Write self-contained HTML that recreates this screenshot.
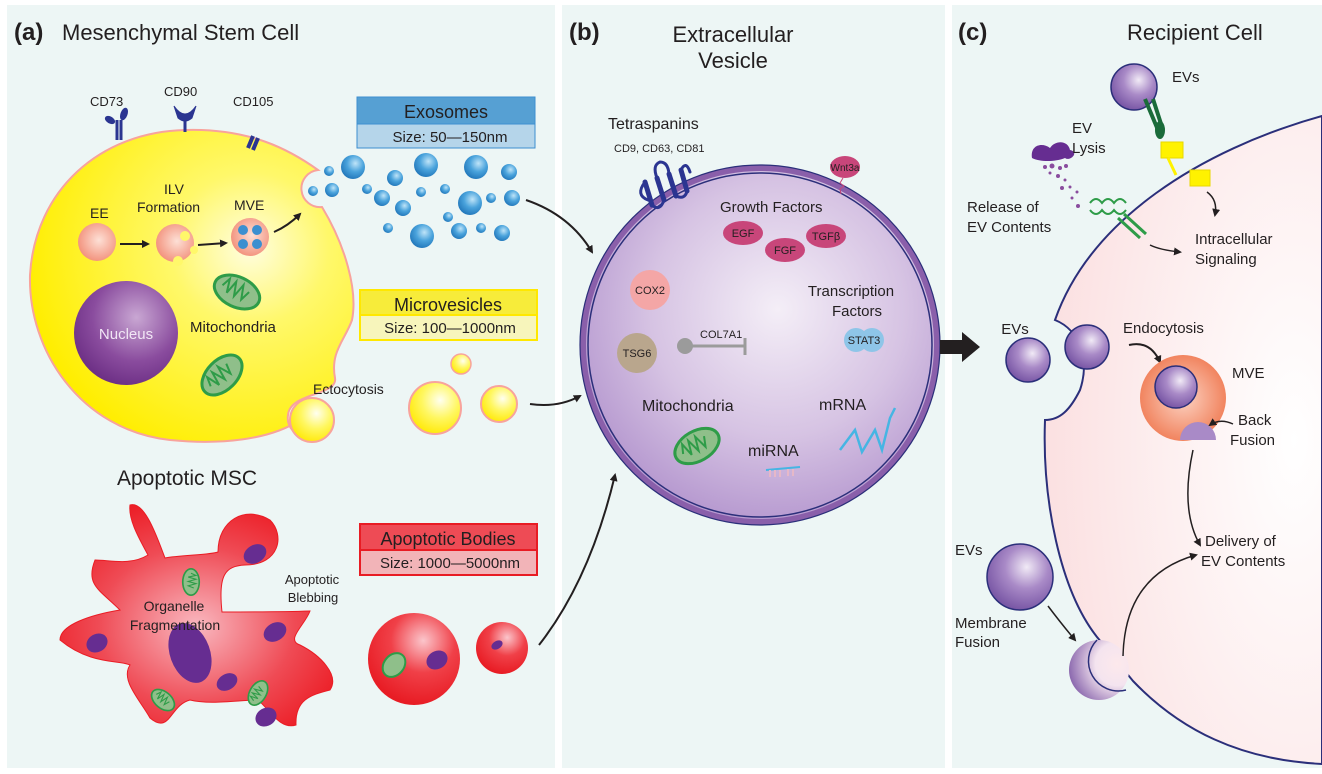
<!DOCTYPE html>
<html><head><meta charset="utf-8"><style>
html,body{margin:0;padding:0;background:#fff}
svg{display:block}
text{font-family:"Liberation Sans",sans-serif;fill:#231f20}
</style></head><body>
<svg width="1322" height="774" viewBox="0 0 1322 774" xmlns="http://www.w3.org/2000/svg">
<defs>
<radialGradient id="yel" cx="0.68" cy="0.38" r="0.7"><stop offset="0" stop-color="#fffde0"/><stop offset="0.35" stop-color="#fff86a"/><stop offset="1" stop-color="#ffee00"/></radialGradient>
<radialGradient id="ysm" cx="0.6" cy="0.35" r="0.7"><stop offset="0" stop-color="#fffff0"/><stop offset="0.5" stop-color="#fff760"/><stop offset="1" stop-color="#ffe800"/></radialGradient>
<radialGradient id="blue" cx="0.6" cy="0.35" r="0.7"><stop offset="0" stop-color="#bfe4f8"/><stop offset="0.5" stop-color="#4aa3dc"/><stop offset="1" stop-color="#1f74b8"/></radialGradient>
<radialGradient id="red" cx="0.5" cy="0.55" r="0.6"><stop offset="0" stop-color="#f9b8c0"/><stop offset="0.6" stop-color="#ef4b55"/><stop offset="1" stop-color="#ec1c24"/></radialGradient>
<radialGradient id="rsm" cx="0.6" cy="0.3" r="0.7"><stop offset="0" stop-color="#fbc5cb"/><stop offset="0.5" stop-color="#f04048"/><stop offset="1" stop-color="#e81c24"/></radialGradient>
<radialGradient id="purp" cx="0.6" cy="0.35" r="0.7"><stop offset="0" stop-color="#c9a7d3"/><stop offset="0.6" stop-color="#8a4c9e"/><stop offset="1" stop-color="#6a2d83"/></radialGradient>
<radialGradient id="ev" cx="0.55" cy="0.4" r="0.6"><stop offset="0" stop-color="#f4eef7"/><stop offset="0.6" stop-color="#d6c3e3"/><stop offset="1" stop-color="#b79ad0"/></radialGradient>
<radialGradient id="evs" cx="0.6" cy="0.35" r="0.65"><stop offset="0" stop-color="#f1eaf6"/><stop offset="0.5" stop-color="#a98ac7"/><stop offset="1" stop-color="#7a58a6"/></radialGradient>
<radialGradient id="fus" cx="0.8" cy="0.4" r="0.8"><stop offset="0" stop-color="#fde9ec"/><stop offset="0.45" stop-color="#f4e4ef"/><stop offset="1" stop-color="#8e6cb0"/></radialGradient>
<radialGradient id="pink" cx="0.9" cy="0.5" r="0.9"><stop offset="0" stop-color="#ffffff"/><stop offset="1" stop-color="#fbe0e1"/></radialGradient>
<radialGradient id="sal" cx="0.55" cy="0.45" r="0.6"><stop offset="0" stop-color="#fde0d6"/><stop offset="1" stop-color="#f28e78"/></radialGradient>
<radialGradient id="mve" cx="0.5" cy="0.5" r="0.55"><stop offset="0" stop-color="#fcd3c3"/><stop offset="1" stop-color="#f07c55"/></radialGradient>
<marker id="ah" markerWidth="8" markerHeight="8" refX="6" refY="4" orient="auto" markerUnits="userSpaceOnUse"><path d="M0,0 L8,4 L0,8 Z" fill="#231f20"/></marker>
<g id="mito"><ellipse cx="0" cy="0" rx="24" ry="15" fill="#8fbf8a" stroke="#2e9c48" stroke-width="3"/><path d="M-16,0 l4,-9 l3,14 l4,-14 l4,14 l4,-14 l4,14 l4,-10" fill="none" stroke="#2e9c48" stroke-width="2"/></g>
</defs>
<!-- panels -->
<rect x="7" y="5" width="548" height="763" fill="#edf6f5"/>
<rect x="562" y="5" width="383" height="763" fill="#edf6f5"/>
<rect x="952" y="5" width="370" height="763" fill="#edf6f5"/>

<!-- ===== Panel A ===== -->
<text x="14" y="40" font-size="24" font-weight="bold">(a)</text>
<text x="62" y="40" font-size="22">Mesenchymal Stem Cell</text>
<text x="90" y="106" font-size="13">CD73</text>
<text x="164" y="96" font-size="13">CD90</text>
<text x="233" y="106" font-size="13">CD105</text>
<!-- yellow cell -->
<path d="M185,130 C250,128 290,150 318,170 A18,18 0 0 0 322,207 C345,245 358,290 352,320 C345,340 330,352 335,378 C338,396 290,392 288,415 C284,440 330,450 330,420 C330,400 315,400 300,420 C270,440 220,445 170,440 C80,430 28,350 30,275 C35,190 100,132 185,130 Z" fill="url(#yel)" stroke="#f8a39c" stroke-width="2"/>
<g fill="#2b3591" stroke="#2b3591">
<path d="M117,140 L117,120 M121,140 L121,120" stroke-width="3"/>
<ellipse cx="110" cy="120" rx="5" ry="3" transform="rotate(30 110 120)"/><ellipse cx="124" cy="114" rx="3" ry="6" transform="rotate(20 124 114)"/>
<path d="M174,106 Q185,122 196,106 L192,118 Q185,124 178,118 Z"/><path d="M185,120 L185,132" stroke-width="3"/>
<path d="M248,148 L253,136 M253,150 L258,138" stroke-width="4"/>
</g>
<circle cx="312" cy="420" r="22" fill="url(#ysm)" stroke="#f8a39c" stroke-width="2"/>
<text x="90" y="218" font-size="14">EE</text>
<text x="164" y="194" font-size="14">ILV</text>
<text x="137" y="212" font-size="14">Formation</text>
<text x="234" y="210" font-size="14">MVE</text>
<circle cx="97" cy="242" r="19" fill="url(#sal)"/>
<circle cx="175" cy="243" r="19" fill="url(#sal)"/>
<circle cx="185" cy="236" r="5" fill="#fff86a"/><circle cx="178" cy="261" r="5" fill="#fff86a"/><circle cx="194" cy="250" r="4" fill="#fff86a"/>
<circle cx="250" cy="237" r="19" fill="url(#sal)"/>
<circle cx="243" cy="230" r="5" fill="#3b8fd0"/><circle cx="257" cy="230" r="5" fill="#3b8fd0"/><circle cx="243" cy="244" r="5" fill="#3b8fd0"/><circle cx="257" cy="244" r="5" fill="#3b8fd0"/>
<path d="M120,244 L148,244" stroke="#231f20" stroke-width="2" marker-end="url(#ah)"/>
<path d="M198,245 L226,243" stroke="#231f20" stroke-width="2" marker-end="url(#ah)"/>
<path d="M274,232 Q288,226 300,214" fill="none" stroke="#231f20" stroke-width="2" marker-end="url(#ah)"/>
<circle cx="126" cy="333" r="52" fill="url(#purp)"/>
<text x="126" y="339" font-size="15" text-anchor="middle" style="fill:#f1e6f5">Nucleus</text>
<use href="#mito" transform="translate(237,292) rotate(25)"/>
<use href="#mito" transform="translate(222,375) rotate(-45)"/>
<text x="190" y="332" font-size="15">Mitochondria</text>
<!-- exosomes -->
<g fill="url(#blue)">
<circle cx="329" cy="171" r="5"/><circle cx="313" cy="191" r="5"/><circle cx="332" cy="190" r="7"/>
<circle cx="353" cy="167" r="12"/><circle cx="395" cy="178" r="8"/><circle cx="426" cy="165" r="12"/><circle cx="476" cy="167" r="12"/><circle cx="509" cy="172" r="8"/>
<circle cx="367" cy="189" r="5"/><circle cx="382" cy="198" r="8"/><circle cx="403" cy="208" r="8"/><circle cx="421" cy="192" r="5"/><circle cx="445" cy="189" r="5"/><circle cx="470" cy="203" r="12"/><circle cx="491" cy="198" r="5"/><circle cx="512" cy="198" r="8"/>
<circle cx="388" cy="228" r="5"/><circle cx="422" cy="236" r="12"/><circle cx="448" cy="217" r="5"/><circle cx="459" cy="231" r="8"/><circle cx="481" cy="228" r="5"/><circle cx="502" cy="233" r="8"/>
</g>
<rect x="357" y="97" width="178" height="27" fill="#56a0d3" stroke="#3d8fd0"/>
<rect x="357" y="124" width="178" height="24" fill="#b5d5ea" stroke="#3d8fd0"/>
<text x="446" y="118" font-size="18" text-anchor="middle">Exosomes</text>
<text x="450" y="142" font-size="15" text-anchor="middle">Size: 50—150nm</text>
<path d="M526,200 Q570,215 592,252" fill="none" stroke="#231f20" stroke-width="2" marker-end="url(#ah)"/>
<!-- microvesicles -->
<rect x="360" y="290" width="177" height="25" fill="#f7ec3a" stroke="#ffe800" stroke-width="2"/>
<rect x="360" y="315" width="177" height="25" fill="#f7f5bb" stroke="#ffe800" stroke-width="2"/>
<text x="448" y="311" font-size="18" text-anchor="middle">Microvesicles</text>
<text x="450" y="333" font-size="15" text-anchor="middle">Size: 100—1000nm</text>
<text x="313" y="394" font-size="14">Ectocytosis</text>
<circle cx="461" cy="364" r="10" fill="url(#ysm)" stroke="#f8a39c" stroke-width="1.5"/>
<circle cx="435" cy="408" r="26" fill="url(#ysm)" stroke="#f8a39c" stroke-width="2"/>
<circle cx="499" cy="404" r="18" fill="url(#ysm)" stroke="#f8a39c" stroke-width="2"/>
<path d="M530,404 Q558,408 580,396" fill="none" stroke="#231f20" stroke-width="2" marker-end="url(#ah)"/>
<!-- apoptotic -->
<text x="117" y="485" font-size="21">Apoptotic MSC</text>
<path d="M130,505 C145,500 158,540 165,558 C180,555 210,555 218,552 C218,520 245,505 270,520 C285,535 280,565 245,565 C225,566 218,575 222,612 C250,612 280,612 310,611 C305,625 285,640 300,645 C320,655 340,675 330,690 C310,695 295,700 296,725 C280,730 270,710 258,700 C240,700 210,705 190,700 C170,705 170,735 150,718 C140,700 120,680 130,665 C120,660 90,665 60,640 C60,625 90,615 120,610 C100,590 85,585 95,560 C110,560 130,566 148,555 C140,540 128,520 130,505 Z" fill="url(#red)" stroke="#ea1c24" stroke-width="1"/>
<g fill="#662d91">
<ellipse cx="190" cy="653" rx="20" ry="31" transform="rotate(-20 190 653)"/>
<ellipse cx="255" cy="554" rx="12" ry="9" transform="rotate(-30 255 554)"/>
<ellipse cx="275" cy="632" rx="12" ry="9" transform="rotate(-30 275 632)"/>
<ellipse cx="97" cy="643" rx="11" ry="9" transform="rotate(-30 97 643)"/>
<ellipse cx="227" cy="682" rx="11" ry="8" transform="rotate(-30 227 682)"/>
<ellipse cx="266" cy="717" rx="11" ry="9" transform="rotate(-30 266 717)"/>
<ellipse cx="437" cy="660" rx="11" ry="9" transform="rotate(-30 437 660)"/>
<ellipse cx="497" cy="645" rx="6" ry="4" transform="rotate(-30 497 645)"/>
</g>
<use href="#mito" transform="translate(191,582) rotate(90) scale(0.55)"/>
<use href="#mito" transform="translate(258,693) rotate(-60) scale(0.55)"/>
<use href="#mito" transform="translate(163,700) rotate(40) scale(0.55)"/>
<text x="174" y="611" font-size="14" text-anchor="middle">Organelle</text>
<text x="175" y="630" font-size="14" text-anchor="middle">Fragmentation</text>
<text x="312" y="584" font-size="13" text-anchor="middle">Apoptotic</text>
<text x="313" y="602" font-size="13" text-anchor="middle">Blebbing</text>
<rect x="360" y="524" width="177" height="26" fill="#ee4b55" stroke="#e81c24" stroke-width="2"/>
<rect x="360" y="550" width="177" height="25" fill="#f2b4b8" stroke="#e81c24" stroke-width="2"/>
<text x="448" y="545" font-size="18" text-anchor="middle">Apoptotic Bodies</text>
<text x="450" y="568" font-size="15" text-anchor="middle">Size: 1000—5000nm</text>
<circle cx="414" cy="659" r="46" fill="url(#rsm)"/>
<ellipse cx="394" cy="665" rx="10" ry="13" fill="#8fbf8a" stroke="#2e9c48" stroke-width="2" transform="rotate(40 394 665)"/>
<ellipse cx="437" cy="660" rx="11" ry="9" fill="#662d91" transform="rotate(-30 437 660)"/>
<circle cx="502" cy="648" r="26" fill="url(#rsm)"/>
<ellipse cx="497" cy="645" rx="6" ry="4" fill="#662d91" transform="rotate(-30 497 645)"/>
<path d="M539,645 Q590,580 615,475" fill="none" stroke="#231f20" stroke-width="2" marker-end="url(#ah)"/>

<!-- ===== Panel B ===== -->
<text x="569" y="40" font-size="24" font-weight="bold">(b)</text>
<text x="733" y="42" font-size="22" text-anchor="middle">Extracellular</text>
<text x="733" y="68" font-size="22" text-anchor="middle">Vesicle</text>
<circle cx="760" cy="345" r="177" fill="url(#ev)" stroke="#8a5faa" stroke-width="6"/>
<circle cx="760" cy="345" r="172" fill="none" stroke="#2b2f7a" stroke-width="1.5"/>
<circle cx="760" cy="345" r="180" fill="none" stroke="#2b2f7a" stroke-width="1.2"/>
<text x="608" y="129" font-size="16">Tetraspanins</text>
<text x="614" y="152" font-size="11">CD9, CD63, CD81</text>
<g fill="none" stroke="#2b3591" stroke-width="5" stroke-linecap="round">
<path d="M645,182 L652,205 M657,178 L664,200 M669,174 L676,196 M681,170 L687,191"/>
<path d="M645,182 Q635,195 648,200 M657,178 Q652,165 660,162 Q668,162 669,174 M681,170 Q686,160 690,172" stroke-width="3"/>
<path d="M652,205 Q660,212 664,200 M676,196 Q685,200 687,191" stroke-width="3"/>
</g>
<ellipse cx="845" cy="167" rx="15" ry="11" fill="#c8467a"/>
<text x="845" y="171" font-size="10" text-anchor="middle">Wnt3a</text>
<path d="M843,178 l-3,5 l4,3 l-4,3 l1,5" stroke="#c8467a" fill="none"/>
<text x="720" y="212" font-size="15">Growth Factors</text>
<g fill="#c8467a"><ellipse cx="743" cy="233" rx="20" ry="12"/><ellipse cx="785" cy="250" rx="20" ry="12"/><ellipse cx="826" cy="236" rx="20" ry="12"/></g>
<text x="743" y="237" font-size="11" text-anchor="middle">EGF</text>
<text x="785" y="254" font-size="11" text-anchor="middle">FGF</text>
<text x="826" y="240" font-size="11" text-anchor="middle">TGFβ</text>
<circle cx="650" cy="290" r="20" fill="#f4a6a6"/>
<text x="650" y="294" font-size="11" text-anchor="middle">COX2</text>
<circle cx="637" cy="353" r="20" fill="#b9a68d"/>
<text x="637" y="357" font-size="11" text-anchor="middle">TSG6</text>
<text x="700" y="338" font-size="11">COL7A1</text>
<circle cx="685" cy="346" r="8" fill="#9b9b9b"/>
<path d="M690,346 L745,346 M745,338 L745,355" stroke="#9b9b9b" stroke-width="3"/>
<text x="851" y="296" font-size="15" text-anchor="middle">Transcription</text>
<text x="857" y="316" font-size="15" text-anchor="middle">Factors</text>
<circle cx="856" cy="340" r="12" fill="#8ec5e8"/><circle cx="872" cy="340" r="12" fill="#8ec5e8"/>
<text x="864" y="344" font-size="11" text-anchor="middle">STAT3</text>
<text x="642" y="411" font-size="16">Mitochondria</text>
<use href="#mito" transform="translate(697,446) rotate(-30)"/>
<text x="748" y="456" font-size="16">miRNA</text>
<path d="M766,470 L800,467" stroke="#46b5e3" stroke-width="2"/>
<path d="M770,470 l0,7 M775,470 l0,7 M780,470 l0,7 M788,469 l0,7 M793,469 l0,7" stroke="#e6b8c8" stroke-width="2"/>
<text x="819" y="410" font-size="16">mRNA</text>
<path d="M840,450 L855,430 L862,452 L875,430 L882,450 L890,418 L895,408" fill="none" stroke="#46b5e3" stroke-width="2.5"/>
<!-- big arrow -->
<path d="M940,340 L962,340 L962,332 L980,347 L962,362 L962,354 L940,354 Z" fill="#231f20"/>

<!-- ===== Panel C ===== -->
<text x="958" y="40" font-size="24" font-weight="bold">(c)</text>
<text x="1127" y="40" font-size="22">Recipient Cell</text>
<path d="M1322,116 C1200,150 1090,220 1055,320 C1080,330 1090,360 1080,390 C1070,410 1060,420 1045,420 C1042,500 1060,590 1097,637 L1133,681 C1180,730 1240,760 1322,764 Z" fill="url(#pink)" stroke="#2b2f7a" stroke-width="2"/>
<circle cx="1099" cy="670" r="30" fill="url(#fus)"/>
<path d="M1097,640 A30,30 0 0 0 1126,690" fill="none" stroke="#2b2f7a" stroke-width="1.5"/>
<circle cx="1028" cy="360" r="22" fill="url(#evs)" stroke="#2b2f7a" stroke-width="1.5"/>
<circle cx="1087" cy="347" r="22" fill="url(#evs)" stroke="#2b2f7a" stroke-width="1.5"/>
<text x="1015" y="334" font-size="15" text-anchor="middle">EVs</text>
<text x="1123" y="333" font-size="15">Endocytosis</text>
<path d="M1129,345 Q1150,340 1160,362" fill="none" stroke="#231f20" stroke-width="2" marker-end="url(#ah)"/>
<circle cx="1183" cy="398" r="43" fill="url(#mve)"/>
<circle cx="1176" cy="387" r="21" fill="url(#evs)" stroke="#2b2f7a" stroke-width="1.5"/>
<path d="M1180,440 A18,18 0 0 1 1216,440 Z" fill="#a98ac7"/>
<text x="1232" y="378" font-size="15">MVE</text>
<text x="1238" y="425" font-size="15">Back</text>
<text x="1230" y="445" font-size="15">Fusion</text>
<path d="M1233,424 Q1220,418 1210,425" fill="none" stroke="#231f20" stroke-width="1.5" marker-end="url(#ah)"/>
<path d="M1193,450 Q1180,510 1200,545" fill="none" stroke="#231f20" stroke-width="1.5" marker-end="url(#ah)"/>
<path d="M1123,656 Q1125,575 1196,555" fill="none" stroke="#231f20" stroke-width="1.5" marker-end="url(#ah)"/>
<text x="1205" y="546" font-size="15">Delivery of</text>
<text x="1201" y="566" font-size="15">EV Contents</text>
<text x="955" y="555" font-size="15">EVs</text>
<circle cx="1020" cy="577" r="33" fill="url(#evs)" stroke="#2b2f7a" stroke-width="1.5"/>
<text x="955" y="628" font-size="15">Membrane</text>
<text x="955" y="647" font-size="15">Fusion</text>
<path d="M1048,606 Q1060,622 1075,640" fill="none" stroke="#231f20" stroke-width="1.5" marker-end="url(#ah)"/>
<!-- top EV with receptor -->
<circle cx="1134" cy="87" r="23" fill="url(#evs)" stroke="#2b2f7a" stroke-width="1.5"/>
<text x="1172" y="82" font-size="15">EVs</text>
<path d="M1145,99 L1158,130 M1153,99 L1163,130" stroke="#1a6b3a" stroke-width="4"/>
<ellipse cx="1160" cy="130" rx="5" ry="9" fill="#1a6b3a"/>
<rect x="1161" y="142" width="22" height="16" fill="#fff200" stroke="#e8d800"/>
<path d="M1168,158 L1176,175" stroke="#fff200" stroke-width="3"/>
<rect x="1190" y="170" width="20" height="16" fill="#fff200" stroke="#e8d800"/>
<path d="M1207,192 Q1218,200 1215,215" fill="none" stroke="#231f20" stroke-width="1.5" marker-end="url(#ah)"/>
<text x="1195" y="244" font-size="15">Intracellular</text>
<text x="1195" y="264" font-size="15">Signaling</text>
<!-- lysis -->
<path d="M1032,158 C1030,145 1042,142 1050,148 C1055,140 1068,140 1070,150 C1080,152 1070,162 1065,158 C1055,162 1040,162 1032,158 Z" fill="#662d91"/>
<text x="1072" y="133" font-size="15">EV</text>
<text x="1072" y="153" font-size="15">Lysis</text>
<g fill="#8a4c9e"><circle cx="1045" cy="167" r="2"/><circle cx="1052" cy="166" r="2.5"/><circle cx="1060" cy="168" r="2"/><circle cx="1066" cy="166" r="2"/><circle cx="1050" cy="173" r="1.5"/><circle cx="1058" cy="176" r="2"/><circle cx="1065" cy="180" r="1.5"/><circle cx="1070" cy="187" r="1.5"/><circle cx="1062" cy="188" r="2"/><circle cx="1077" cy="192" r="1.5"/><circle cx="1078" cy="206" r="2"/><circle cx="1072" cy="198" r="1.5"/></g>
<text x="967" y="212" font-size="15">Release of</text>
<text x="967" y="232" font-size="15">EV Contents</text>
<path d="M1090,203 q6,-8 12,0 q6,-8 12,0 q6,-8 12,0 M1090,210 q6,8 12,0 q6,8 12,0 q6,8 12,0" fill="none" stroke="#2e9c48" stroke-width="2"/>
<path d="M1118,218 L1140,238 M1124,214 L1146,234" stroke="#2e9c48" stroke-width="3"/>
<path d="M1150,245 Q1160,250 1180,252" fill="none" stroke="#231f20" stroke-width="1.5" marker-end="url(#ah)"/>
</svg>
</body></html>
